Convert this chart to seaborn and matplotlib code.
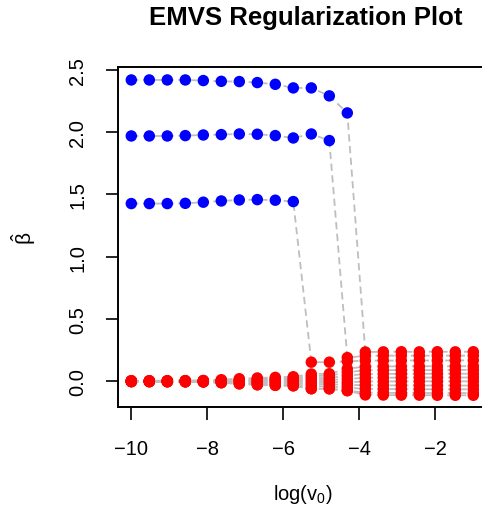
import numpy as np
import pandas as pd
import matplotlib
matplotlib.use("Agg")
import matplotlib.pyplot as plt
import seaborn as sns

sns.set_style("ticks")
plt.rcParams["font.family"] = ["Liberation Sans", "DejaVu Sans"]
plt.rcParams["mathtext.fontset"] = "custom"
plt.rcParams["mathtext.rm"] = "Liberation Sans"
plt.rcParams["mathtext.it"] = "Liberation Sans:italic"
plt.rcParams["text.color"] = "black"
plt.rcParams["axes.labelcolor"] = "black"

# grid of log(v0) values
log_v0 = [-10.0, -9.526, -9.053, -8.579, -8.105, -7.632, -7.158, -6.684, -6.211, -5.737,
          -5.263, -4.789, -4.316, -3.842, -3.368, -2.895, -2.421, -1.947, -1.474, -1.0]

# coefficient paths
beta_1 = [2.420, 2.420, 2.420, 2.420, 2.415, 2.409, 2.407, 2.399, 2.385, 2.356,
          2.356, 2.292, 2.155, 0.235, 0.236, 0.237, 0.236, 0.237, 0.236, 0.237]
beta_2 = [1.970, 1.970, 1.970, 1.973, 1.978, 1.981, 1.986, 1.984, 1.973, 1.954,
          1.986, 1.933, 0.190, 0.204, 0.205, 0.206, 0.205, 0.206, 0.205, 0.206]
beta_3 = [1.427, 1.427, 1.427, 1.429, 1.438, 1.448, 1.456, 1.459, 1.454, 1.443,
          0.153, 0.153, 0.160, 0.165, 0.166, 0.166, 0.167, 0.166, 0.167, 0.167]
n_selected = [13, 12, 10]  # first k where each true signal is no longer selected

null_paths = [
    [0.004, 0.004, 0.004, 0.005, 0.006, 0.012, 0.020, 0.026, 0.031, 0.036,
     0.058, 0.060, 0.100, 0.118, 0.119, 0.120, 0.120, 0.121, 0.120, 0.121],
    [0.003, 0.003, 0.003, 0.004, 0.004, 0.008, 0.014, 0.018, 0.022, 0.026,
     0.042, 0.044, 0.072, 0.088, 0.089, 0.090, 0.089, 0.090, 0.090, 0.091],
    [0.002, 0.002, 0.002, 0.002, 0.003, 0.005, 0.008, 0.010, 0.013, 0.015,
     0.025, 0.026, 0.045, 0.058, 0.059, 0.059, 0.060, 0.060, 0.061, 0.060],
    [0.001, 0.001, 0.001, 0.001, 0.001, 0.002, 0.003, 0.004, 0.005, 0.006,
     0.009, 0.010, 0.018, 0.028, 0.028, 0.029, 0.029, 0.030, 0.030, 0.030],
    [0.000, 0.000, 0.000, 0.000, 0.000, -0.001, -0.001, -0.002, -0.002, -0.003,
     -0.006, -0.006, -0.008, -0.002, -0.002, -0.001, -0.001, -0.001, -0.001, -0.001],
    [-0.001, -0.001, -0.001, -0.002, -0.002, -0.004, -0.007, -0.009, -0.011, -0.013,
     -0.022, -0.023, -0.030, -0.032, -0.033, -0.033, -0.034, -0.034, -0.034, -0.035],
    [-0.002, -0.002, -0.003, -0.003, -0.004, -0.008, -0.013, -0.017, -0.020, -0.024,
     -0.040, -0.041, -0.052, -0.062, -0.063, -0.064, -0.064, -0.065, -0.065, -0.065],
    [-0.003, -0.004, -0.004, -0.005, -0.006, -0.012, -0.020, -0.028, -0.032, -0.036,
     -0.060, -0.060, -0.075, -0.092, -0.093, -0.094, -0.094, -0.095, -0.095, -0.095],
    [-0.004, -0.004, -0.005, -0.005, -0.006, -0.012, -0.021, -0.028, -0.033, -0.037,
     -0.060, -0.061, -0.076, -0.110, -0.111, -0.112, -0.112, -0.113, -0.113, -0.113],
]

x_ticks = [-10, -8, -6, -4, -2]
y_ticks = [0.0, 0.5, 1.0, 1.5, 2.0, 2.5]

# long-form table
rows = []
for j, (path, cut) in enumerate(zip([beta_1, beta_2, beta_3], n_selected)):
    for k, (x, b) in enumerate(zip(log_v0, path)):
        rows.append((f"s{j}", x, b, "in" if k < cut else "out"))
for j, path in enumerate(null_paths):
    for x, b in zip(log_v0, path):
        rows.append((f"n{j}", x, b, "out"))
df = pd.DataFrame(rows, columns=["coef", "log_v0", "beta", "status"])

fig = plt.figure(figsize=(4.82, 5.10), dpi=100)
ax = fig.add_axes([118 / 482, 1 - 408 / 510, 369 / 482, 340 / 510])

sns.lineplot(data=df, x="log_v0", y="beta", units="coef", estimator=None,
             color="#BEBEBE", lw=1.3, dashes=False, ax=ax, zorder=1,
             linestyle=(0, (4, 2.5)))
sns.scatterplot(data=df, x="log_v0", y="beta", hue="status",
                palette={"in": "#0000FF", "out": "#FF0000"},
                s=68, linewidth=0, legend=False, ax=ax, zorder=3)

ax.set_xlim(-10.35, -0.64)
ax.set_ylim(-0.207, 2.524)
ax.set_xticks(x_ticks)
ax.set_yticks(y_ticks)
ax.set_xticklabels([f"\u2212{abs(t)}" for t in x_ticks])
ax.set_yticklabels([f"{t:.1f}" for t in y_ticks], rotation=90, va="center")
ax.tick_params(axis="both", direction="out", length=9, width=1.2,
               labelsize=14.5, color="black", labelcolor="black")
ax.tick_params(axis="x", pad=14)
ax.tick_params(axis="y", pad=13)
for sp in ax.spines.values():
    sp.set_visible(True)
    sp.set_linewidth(1.4)
    sp.set_color("black")

ax.set_xlabel(r"$\mathrm{log(v_0)}$", fontsize=14.5, labelpad=17)
ax.set_ylabel(r"$\mathrm{\hat{\beta}}$", fontsize=15, labelpad=22)
fig.text(306 / 482, 1 - 18 / 510, "EMVS Regularization Plot", ha="center",
         va="center", fontsize=18.5, fontweight="bold", color="black")

fig.savefig("out.png", dpi=100)
